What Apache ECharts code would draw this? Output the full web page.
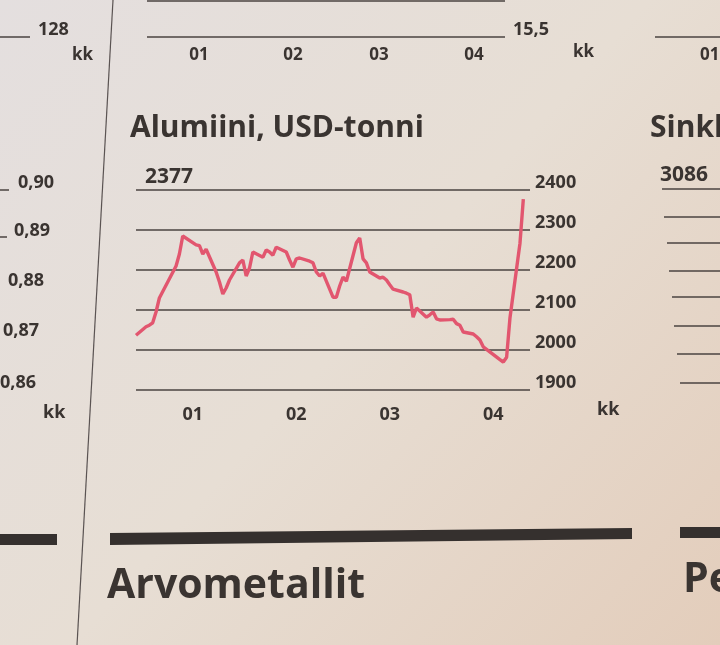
<!DOCTYPE html>
<html>
<head>
<meta charset="utf-8">
<script src="https://cdn.jsdelivr.net/npm/echarts@6.0.0/dist/echarts.min.js"></script>
<style>
  html, body { margin: 0; padding: 0; }
  #chart { width: 720px; height: 645px; }
</style>
</head>
<body>
<div id="chart"></div>
<script>
// Aluminium price, USD per tonne (trading days)
const dates = [
  '2017-12-15','2017-12-18','2017-12-19','2017-12-20','2017-12-21','2017-12-22',
  '2017-12-27','2017-12-28','2017-12-29',
  '2018-01-02','2018-01-03','2018-01-04','2018-01-05',
  '2018-01-08','2018-01-09','2018-01-10','2018-01-11','2018-01-12',
  '2018-01-15','2018-01-16','2018-01-17','2018-01-18','2018-01-19',
  '2018-01-22','2018-01-23','2018-01-24','2018-01-25','2018-01-26',
  '2018-01-29','2018-01-30','2018-01-31','2018-02-01','2018-02-02',
  '2018-02-05','2018-02-06','2018-02-07','2018-02-08','2018-02-09',
  '2018-02-12','2018-02-13','2018-02-14','2018-02-15','2018-02-16',
  '2018-02-19','2018-02-20','2018-02-21','2018-02-22','2018-02-23',
  '2018-02-26','2018-02-27','2018-02-28','2018-03-01','2018-03-02',
  '2018-03-05','2018-03-06','2018-03-07','2018-03-08','2018-03-09',
  '2018-03-12','2018-03-13','2018-03-14','2018-03-15','2018-03-16',
  '2018-03-19','2018-03-20','2018-03-21','2018-03-22','2018-03-23',
  '2018-03-26','2018-03-27','2018-03-28','2018-03-29',
  '2018-04-03','2018-04-04','2018-04-05','2018-04-06',
  '2018-04-09','2018-04-10'
];
const values = [
  2037, 2058, 2062, 2068, 2095, 2130,
  2210, 2240, 2285,
  2263, 2261, 2240, 2252,
  2195, 2170, 2140, 2155, 2175,
  2218, 2225, 2185, 2205, 2245,
  2232, 2250, 2245, 2237, 2257,
  2245, 2225, 2207, 2228, 2230,
  2222, 2218, 2195, 2185, 2192,
  2132, 2132, 2160, 2182, 2172,
  2268, 2280, 2228, 2218, 2195,
  2180, 2182, 2175, 2163, 2152,
  2145, 2142, 2138, 2082, 2105,
  2082, 2088, 2095, 2078, 2075,
  2076, 2077, 2066, 2062, 2045,
  2040, 2033, 2025, 2008,
  1976, 1970, 1982, 2080,
  2267, 2377
];
const monthStarts = ['2018-01-01','2018-02-01','2018-03-01','2018-04-01'];
const monthLabels = ['01','02','03','04'];
const yMin = 1900, yMax = 2400, yStep = 100;
const lastValue = '2377';

const DAY = 86400000;
const base = Date.parse('2018-01-01');
const dayNum = d => Math.round((Date.parse(d) - base) / DAY);
const seriesData = dates.map((d, i) => [dayNum(d), values[i]]);
const monthPos = monthStarts.map(dayNum);

const ink = '#3a3431';
const font = '"Open Sans", "Noto Sans", sans-serif';
const txt = (x, y, text, size, weight, align, extra) => ({
  type: 'text', x: x, y: y, silent: true,
  style: Object.assign({ text: text, fill: ink, font: (weight || 'bold') + ' ' + size + 'px ' + font,
    textAlign: align || 'left', textVerticalAlign: 'middle' }, extra || {})
});
const hline = (x1, y1, x2, y2, w) => ({
  type: 'line', silent: true,
  shape: { x1: x1, y1: y1, x2: x2, y2: y2 },
  style: { stroke: '#4a4340', lineWidth: w || 1.5 }
});

const chart = echarts.init(document.getElementById('chart'), null, { renderer: 'canvas' });
chart.setOption({
  animation: false,
  backgroundColor: new echarts.graphic.LinearGradient(0, 0, 1, 1, [
    { offset: 0, color: '#e4dfdf' },
    { offset: 0.5, color: '#e7ded4' },
    { offset: 1, color: '#e3cdbb' }
  ]),
  grid: { left: 136, right: 190, top: 190, bottom: 255, containLabel: false },
  xAxis: {
    type: 'value',
    min: dayNum('2017-12-15'),
    max: dayNum('2018-04-12'),
    axisLine: { show: false },
    axisTick: { show: false },
    splitLine: { show: false },
    axisLabel: {
      customValues: monthPos,
      formatter: v => monthLabels[monthPos.indexOf(v)] || '',
      color: ink, fontSize: 18, fontWeight: 'bold', fontFamily: font, margin: 16
    }
  },
  yAxis: {
    type: 'value', position: 'right',
    min: yMin, max: yMax, interval: yStep,
    axisLine: { show: false },
    axisTick: { show: false },
    splitLine: { show: true, lineStyle: { color: '#4a4340', width: 1.5 } },
    axisLabel: {
      formatter: v => String(v),
      color: ink, fontSize: 18, fontWeight: 'bold', fontFamily: font,
      margin: 5, verticalAlign: 'bottom', lineHeight: 14
    }
  },
  series: [{
    type: 'line',
    data: seriesData,
    showSymbol: false,
    lineStyle: { color: '#e2566f', width: 3.4 },
    z: 5
  }],
  graphic: [
    // paper column divider
    { type: 'line', silent: true, shape: { x1: 113, y1: 0, x2: 77, y2: 645 },
      style: { stroke: '#5a5352', lineWidth: 1.2 } },
    // main chart texts
    txt(130, 128, 'Alumiini, USD-tonni', 30),
    txt(145, 177, lastValue, 21),
    txt(597, 410, 'kk', 18),
    // top strip (neighbouring charts above)
    hline(147, 1, 505, 1),
    hline(147, 37, 505, 37),
    txt(513, 30, '15,5', 18),
    txt(199, 55, '01', 17, 'bold', 'center'),
    txt(293, 55, '02', 17, 'bold', 'center'),
    txt(379, 55, '03', 17, 'bold', 'center'),
    txt(474, 55, '04', 17, 'bold', 'center'),
    txt(573, 52, 'kk', 17),
    hline(0, 37, 30, 37),
    txt(38, 30, '128', 18),
    txt(72, 55, 'kk', 17),
    hline(655, 37, 720, 37),
    txt(700, 55, '01', 17),
    // left neighbour axis
    hline(0, 190, 9, 190),
    txt(18, 183, '0,90', 18),
    hline(0, 237, 7, 237),
    txt(14, 231, '0,89', 18),
    txt(8, 281, '0,88', 18),
    txt(3, 331, '0,87', 18),
    txt(0, 383, '0,86', 18),
    txt(43, 413, 'kk', 18),
    // right neighbour chart
    txt(650, 128, 'Sinkki', 30),
    txt(660, 175, '3086', 21),
    hline(662, 189, 720, 189),
    hline(664, 217, 720, 217),
    hline(667, 243, 720, 243),
    hline(669, 271, 720, 271),
    hline(672, 297, 720, 297),
    hline(674, 326, 720, 326),
    hline(677, 354, 720, 354),
    hline(680, 383, 720, 383),
    // section bars and heading
    { type: 'rect', silent: true, shape: { x: 0, y: 534, width: 57, height: 11 }, style: { fill: '#35302e' } },
    { type: 'polygon', silent: true, shape: { points: [[110, 533], [632, 528], [632, 539], [110, 545]] }, style: { fill: '#35302e' } },
    { type: 'rect', silent: true, shape: { x: 680, y: 527, width: 40, height: 11 }, style: { fill: '#35302e' } },
    txt(107, 586, 'Arvometallit', 41),
    txt(683, 580, 'Pe', 41)
  ]
});
</script>
</body>
</html>
